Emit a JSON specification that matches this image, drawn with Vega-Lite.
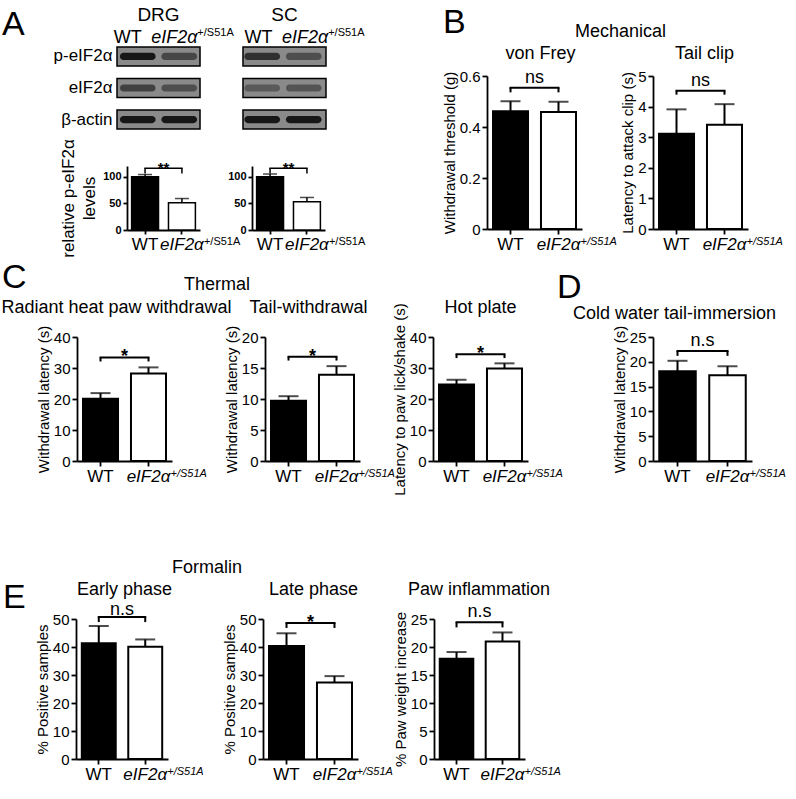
{
"$schema":"https://vega.github.io/schema/vega-lite/v6.json",
"autosize":{"type":"none"},
"padding":{"left":0,"top":47,"right":796,"bottom":752},
"background":"white",
"config":{
 "font":"Liberation Sans",
 "view":{"stroke":null},
 "axis":{"domainColor":"black","domainWidth":1.8,"tickColor":"black","tickWidth":1.8,"tickSize":5,"labelColor":"black","labelFontSize":15,"labelFont":"Liberation Sans","labelOverlap":false,"titleFont":"Liberation Sans","titleColor":"black","titleFontSize":15,"titleFontWeight":"normal","grid":false,"labelPadding":2,"titlePadding":2},
 "title":{"font":"Liberation Sans","fontSize":18,"fontWeight":"normal","color":"black","anchor":"middle","frame":"group","baseline":"alphabetic","offset":0},
 "text":{"font":"Liberation Sans","color":"black"}
},
"datasets":{
 "bars":[
  {"test":"A_DRG","g":"WT","v":100,"e":104},
  {"test":"A_DRG","g":"mut","v":51,"e":59},
  {"test":"A_SC","g":"WT","v":100,"e":105},
  {"test":"A_SC","g":"mut","v":53,"e":61},
  {"test":"vonFrey","g":"WT","v":0.462,"e":0.501},
  {"test":"vonFrey","g":"mut","v":0.459,"e":0.499},
  {"test":"tailClip","g":"WT","v":3.11,"e":3.91},
  {"test":"tailClip","g":"mut","v":3.41,"e":4.08},
  {"test":"radiant","g":"WT","v":20.1,"e":21.9},
  {"test":"radiant","g":"mut","v":28.2,"e":30.2},
  {"test":"tailWithdrawal","g":"WT","v":9.7,"e":10.45},
  {"test":"tailWithdrawal","g":"mut","v":13.9,"e":15.3},
  {"test":"hotPlate","g":"WT","v":24.7,"e":26.2},
  {"test":"hotPlate","g":"mut","v":29.8,"e":31.5},
  {"test":"coldWater","g":"WT","v":18.1,"e":20.2},
  {"test":"coldWater","g":"mut","v":17.3,"e":19.1},
  {"test":"early","g":"WT","v":41.3,"e":47.5},
  {"test":"early","g":"mut","v":40.1,"e":42.7},
  {"test":"late","g":"WT","v":40.4,"e":44.9},
  {"test":"late","g":"mut","v":27.3,"e":29.6},
  {"test":"paw","g":"WT","v":17.9,"e":19.1},
  {"test":"paw","g":"mut","v":21.0,"e":22.6}
 ],
 "sig":[
  {"test":"A_DRG","a":"WT","b":"mut","y":116,"y2":106,"t":"**"},
  {"test":"A_SC","a":"WT","b":"mut","y":116,"y2":106,"t":"**"},
  {"test":"vonFrey","a":"WT","b":"mut","y":0.554,"y2":0.536,"t":"ns"},
  {"test":"tailClip","a":"WT","b":"mut","y":4.52,"y2":4.39,"t":"ns"},
  {"test":"radiant","a":"WT","b":"mut","y":33.4,"y2":32.1,"t":"*"},
  {"test":"tailWithdrawal","a":"WT","b":"mut","y":16.8,"y2":16.2,"t":"*"},
  {"test":"hotPlate","a":"WT","b":"mut","y":34.4,"y2":33.2,"t":"*"},
  {"test":"coldWater","a":"WT","b":"mut","y":22.2,"y2":21.2,"t":"n.s"},
  {"test":"early","a":"WT","b":"mut","y":50.7,"y2":48.9,"t":"n.s"},
  {"test":"late","a":"WT","b":"mut","y":48.6,"y2":46.8,"t":"*"},
  {"test":"paw","a":"WT","b":"mut","y":24.4,"y2":23.5,"t":"n.s"}
 ],
 "blotframes":[
  {"tissue":"DRG","row":"p-eIF2α"},{"tissue":"DRG","row":"eIF2α"},{"tissue":"DRG","row":"β-actin"},
  {"tissue":"SC","row":"p-eIF2α"},{"tissue":"SC","row":"eIF2α"},{"tissue":"SC","row":"β-actin"}
 ],
 "blot":[
  {"lane":"DRG-WT","row":"p-eIF2α","s":0.95},{"lane":"DRG-mut","row":"p-eIF2α","s":0.55},
  {"lane":"SC-WT","row":"p-eIF2α","s":0.75},{"lane":"SC-mut","row":"p-eIF2α","s":0.5},
  {"lane":"DRG-WT","row":"eIF2α","s":0.6},{"lane":"DRG-mut","row":"eIF2α","s":0.5},
  {"lane":"SC-WT","row":"eIF2α","s":0.4},{"lane":"SC-mut","row":"eIF2α","s":0.45},
  {"lane":"DRG-WT","row":"β-actin","s":0.95},{"lane":"DRG-mut","row":"β-actin","s":0.95},
  {"lane":"SC-WT","row":"β-actin","s":0.95},{"lane":"SC-mut","row":"β-actin","s":0.95}
 ],
 "lanes":[
  {"lane":"DRG-WT","geno":"WT"},{"lane":"DRG-mut","geno":"mut"},
  {"lane":"SC-WT","geno":"WT"},{"lane":"SC-mut","geno":"mut"}
 ]
},
"bounds":"flush",
"spacing":0,
"vconcat":[
 {"bounds":"flush","spacing":0,"hconcat":[
  {"width":117,"height":1,"data":{"values":[{}]},"mark":{"type":"point","size":0,"opacity":0},
   "title":{"text":"A","fontSize":34,"anchor":"start","align":"left","dx":2,"dy":-1}},
  {"bounds":"flush","spacing":0,"vconcat":[
   {"width":218,"height":82,
    "resolve":{"scale":{"x":"independent"}},
    "layer":[
     {"data":{"name":"blotframes"},
      "mark":{"type":"rect","fill":"#8a8a8a","stroke":"black","strokeWidth":1.5},
      "encoding":{
       "x":{"field":"tissue","type":"nominal","scale":{"domain":["DRG","SC"],"paddingInner":0.341,"paddingOuter":0.0357,"align":0},
            "axis":{"orient":"top","title":null,"domain":false,"ticks":false,"labelAngle":0,"labelFontSize":19,"labelPadding":23}},
       "y":{"field":"row","type":"nominal","scale":{"domain":["p-eIF2α","eIF2α","β-actin"],"paddingInner":0.4,"paddingOuter":0},
            "axis":{"title":null,"domain":false,"ticks":false,"labelFontSize":17,"labelPadding":5}}}},
     {"data":{"name":"blot"},
      "mark":{"type":"rect","fill":"#111111","cornerRadius":4,"height":{"band":0.38}},
      "encoding":{
       "x":{"field":"lane","type":"nominal","scale":{"domain":["DRG-WT","DRG-mut","gap","SC-WT","SC-mut"],"paddingInner":0.14,"paddingOuter":0.197,"align":0.178},"axis":null},
       "y":{"field":"row","type":"nominal"},
       "opacity":{"field":"s","type":"quantitative","scale":{"domain":[0,1],"range":[0,1]},"legend":null}}},
     {"data":{"name":"lanes"},"transform":[{"filter":"datum.geno=='WT'"}],
      "mark":{"type":"text","text":"WT","fontSize":18,"baseline":"middle","dx":3,"dy":-18},
      "encoding":{
       "x":{"field":"lane","type":"nominal","scale":{"domain":["DRG-WT","DRG-mut","gap","SC-WT","SC-mut"],"paddingInner":0.14,"paddingOuter":0.197,"align":0.178},"axis":null},
       "y":{"datum":"p-eIF2α","type":"nominal"}}},
     {"data":{"name":"lanes"},"transform":[{"filter":"datum.geno=='mut'"}],
      "mark":{"type":"text","text":"eIF2α","fontSize":18,"fontStyle":"italic","baseline":"middle","dx":6,"dy":-18},
      "encoding":{
       "x":{"field":"lane","type":"nominal","scale":{"domain":["DRG-WT","DRG-mut","gap","SC-WT","SC-mut"],"paddingInner":0.14,"paddingOuter":0.197,"align":0.178},"axis":null},
       "y":{"datum":"p-eIF2α","type":"nominal"}}},
     {"data":{"name":"lanes"},"transform":[{"filter":"datum.geno=='mut'"}],
      "mark":{"type":"text","text":"+/S51A","fontSize":11,"align":"left","baseline":"middle","dx":29,"dy":-23},
      "encoding":{
       "x":{"field":"lane","type":"nominal","scale":{"domain":["DRG-WT","DRG-mut","gap","SC-WT","SC-mut"],"paddingInner":0.14,"paddingOuter":0.197,"align":0.178},"axis":null},
       "y":{"datum":"p-eIF2α","type":"nominal"}}}
    ]},
   {"width":1,"height":37,"data":{"values":[{}]},"mark":{"type":"point","size":0,"opacity":0}},
   {"bounds":"flush","spacing":0,"hconcat":[
    {"width":10,"height":1,"data":{"values":[{}]},"mark":{"type":"point","size":0,"opacity":0}},
    {"width":73,"height":64,
     "layer":[
      {"data":{"name":"bars"},"transform":[{"filter":"datum.test=='A_DRG'"}],"mark":{"type":"bar","stroke":"black","strokeWidth":1.5},
       "encoding":{"x":{"field":"g","type":"nominal","scale":{"domain":["WT","mut"],"paddingInner":0.27,"paddingOuter":0.125},
         "axis":{"title":null,"labelAngle":0,"labelFontSize":17,"labelOverlap":false,"labelPadding":2,"tickSize":4,"labelExpr":"datum.value=='mut' ? 'eIF2α' : 'WT'","labelFontStyle":{"condition":{"test":"datum.value=='mut'","value":"italic"},"value":"normal"}}},
        "y":{"field":"v","type":"quantitative","scale":{"domain":[0,120],"nice":false},"axis":{"title":["relative p-eIF2α","levels"],"titleFontSize":17,"titleLineHeight":21,"values":[0,50,100],"tickCount":12,"format":"~f","labelOverlap":false,"labelFontSize":11,"labelFontWeight":"bold","tickSize":4,"titlePadding":4}},
        "fill":{"field":"g","type":"nominal","scale":{"domain":["WT","mut"],"range":["black","white"]},"legend":null}}},
      {"data":{"name":"bars"},"transform":[{"filter":"datum.test=='A_DRG'"}],"mark":{"type":"rule","color":"black","strokeWidth":1.5},
       "encoding":{"x":{"field":"g","type":"nominal","bandPosition":0.5},"y":{"field":"v","type":"quantitative"},"y2":{"field":"e"}}},
      {"data":{"name":"bars"},"transform":[{"filter":"datum.test=='A_DRG'"}],"mark":{"type":"tick","color":"black","thickness":1.5,"size":14},
       "encoding":{"x":{"field":"g","type":"nominal","bandPosition":0.5},"y":{"field":"e","type":"quantitative"}}},
      {"data":{"name":"bars"},"transform":[{"filter":"datum.test=='A_DRG' && datum.g=='mut'"}],"mark":{"type":"text","text":"+/S51A","align":"left","baseline":"top","fontSize":11,"dx":22,"dy":6},
       "encoding":{"x":{"field":"g","type":"nominal","bandPosition":0.5},"y":{"datum":0,"type":"quantitative"}}},
      {"data":{"name":"sig"},"transform":[{"filter":"datum.test=='A_DRG'"}],"mark":{"type":"rule","color":"black","strokeWidth":1.5,"strokeCap":"square"},
       "encoding":{"x":{"field":"a","type":"nominal","bandPosition":0.5},"x2":{"field":"b","bandPosition":0.5},"y":{"field":"y","type":"quantitative"}}},
      {"data":{"name":"sig"},"transform":[{"filter":"datum.test=='A_DRG'"}],"mark":{"type":"rule","color":"black","strokeWidth":1.5},
       "encoding":{"x":{"field":"a","type":"nominal","bandPosition":0.5},"y":{"field":"y","type":"quantitative"},"y2":{"field":"y2"}}},
      {"data":{"name":"sig"},"transform":[{"filter":"datum.test=='A_DRG'"}],"mark":{"type":"rule","color":"black","strokeWidth":1.5},
       "encoding":{"x":{"field":"b","type":"nominal","bandPosition":0.5},"y":{"field":"y","type":"quantitative"},"y2":{"field":"y2"}}},
      {"data":{"name":"sig"},"transform":[{"filter":"datum.test=='A_DRG'"}],"mark":{"type":"text","fontSize":15,"fontWeight":"bold","baseline":"alphabetic","dy":5},
       "encoding":{"x":{"field":"a","type":"nominal","bandPosition":1.185},"y":{"field":"y","type":"quantitative"},"text":{"field":"t"}}}
     ]},
    {"width":52,"height":1,"data":{"values":[{}]},"mark":{"type":"point","size":0,"opacity":0}},
    {"width":73,"height":64,
     "layer":[
      {"data":{"name":"bars"},"transform":[{"filter":"datum.test=='A_SC'"}],"mark":{"type":"bar","stroke":"black","strokeWidth":1.5},
       "encoding":{"x":{"field":"g","type":"nominal","scale":{"domain":["WT","mut"],"paddingInner":0.27,"paddingOuter":0.125},
         "axis":{"title":null,"labelAngle":0,"labelFontSize":17,"labelOverlap":false,"labelPadding":2,"tickSize":4,"labelExpr":"datum.value=='mut' ? 'eIF2α' : 'WT'","labelFontStyle":{"condition":{"test":"datum.value=='mut'","value":"italic"},"value":"normal"}}},
        "y":{"field":"v","type":"quantitative","scale":{"domain":[0,120],"nice":false},"axis":{"title":null,"values":[0,50,100],"tickCount":12,"format":"~f","labelOverlap":false,"labelFontSize":11,"labelFontWeight":"bold","tickSize":4}},
        "fill":{"field":"g","type":"nominal","scale":{"domain":["WT","mut"],"range":["black","white"]},"legend":null}}},
      {"data":{"name":"bars"},"transform":[{"filter":"datum.test=='A_SC'"}],"mark":{"type":"rule","color":"black","strokeWidth":1.5},
       "encoding":{"x":{"field":"g","type":"nominal","bandPosition":0.5},"y":{"field":"v","type":"quantitative"},"y2":{"field":"e"}}},
      {"data":{"name":"bars"},"transform":[{"filter":"datum.test=='A_SC'"}],"mark":{"type":"tick","color":"black","thickness":1.5,"size":14},
       "encoding":{"x":{"field":"g","type":"nominal","bandPosition":0.5},"y":{"field":"e","type":"quantitative"}}},
      {"data":{"name":"bars"},"transform":[{"filter":"datum.test=='A_SC' && datum.g=='mut'"}],"mark":{"type":"text","text":"+/S51A","align":"left","baseline":"top","fontSize":11,"dx":22,"dy":6},
       "encoding":{"x":{"field":"g","type":"nominal","bandPosition":0.5},"y":{"datum":0,"type":"quantitative"}}},
      {"data":{"name":"sig"},"transform":[{"filter":"datum.test=='A_SC'"}],"mark":{"type":"rule","color":"black","strokeWidth":1.5,"strokeCap":"square"},
       "encoding":{"x":{"field":"a","type":"nominal","bandPosition":0.5},"x2":{"field":"b","bandPosition":0.5},"y":{"field":"y","type":"quantitative"}}},
      {"data":{"name":"sig"},"transform":[{"filter":"datum.test=='A_SC'"}],"mark":{"type":"rule","color":"black","strokeWidth":1.5},
       "encoding":{"x":{"field":"a","type":"nominal","bandPosition":0.5},"y":{"field":"y","type":"quantitative"},"y2":{"field":"y2"}}},
      {"data":{"name":"sig"},"transform":[{"filter":"datum.test=='A_SC'"}],"mark":{"type":"rule","color":"black","strokeWidth":1.5},
       "encoding":{"x":{"field":"b","type":"nominal","bandPosition":0.5},"y":{"field":"y","type":"quantitative"},"y2":{"field":"y2"}}},
      {"data":{"name":"sig"},"transform":[{"filter":"datum.test=='A_SC'"}],"mark":{"type":"text","fontSize":15,"fontWeight":"bold","baseline":"alphabetic","dy":5},
       "encoding":{"x":{"field":"a","type":"nominal","bandPosition":1.185},"y":{"field":"y","type":"quantitative"},"text":{"field":"t"}}}
     ]}
   ]}
  ]},
  {"width":369,"height":1,"data":{"values":[{}]},"mark":{"type":"point","size":0,"opacity":0},
   "title":{"text":"B","fontSize":34,"anchor":"start","align":"left","dx":326,"dy":-3}},
  {"bounds":"flush","spacing":0,"vconcat":[
   {"width":1,"height":29,"data":{"values":[{}]},"mark":{"type":"point","size":0,"opacity":0},
    "title":{"text":"Mechanical","dx":134,"dy":-2}},
   {"bounds":"flush","spacing":0,"hconcat":[
    {"width":1,"height":1,"data":{"values":[{}]},"mark":{"type":"point","size":0,"opacity":0},
     "title":{"text":"von Frey","dx":54,"dy":-9}},
    {"width":95,"height":153,
     "layer":[
      {"data":{"name":"bars"},"transform":[{"filter":"datum.test=='vonFrey'"}],"mark":{"type":"bar","stroke":"black","strokeWidth":2},
       "encoding":{"x":{"field":"g","type":"nominal","scale":{"domain":["WT","mut"],"paddingInner":0.27,"paddingOuter":0.125},
         "axis":{"title":null,"labelAngle":0,"labelFontSize":17,"labelOverlap":false,"labelPadding":2,"labelExpr":"datum.value=='mut' ? 'eIF2α' : 'WT'","labelFontStyle":{"condition":{"test":"datum.value=='mut'","value":"italic"},"value":"normal"}}},
        "y":{"field":"v","type":"quantitative","scale":{"domain":[0,0.6],"nice":false},"axis":{"title":"Withdrawal threshold (g)","values":[0,0.2,0.4,0.6],"tickCount":12,"format":"~f","labelOverlap":false}},
        "fill":{"field":"g","type":"nominal","scale":{"domain":["WT","mut"],"range":["black","white"]},"legend":null}}},
      {"data":{"name":"bars"},"transform":[{"filter":"datum.test=='vonFrey'"}],"mark":{"type":"rule","color":"black","strokeWidth":2},
       "encoding":{"x":{"field":"g","type":"nominal","bandPosition":0.5},"y":{"field":"v","type":"quantitative"},"y2":{"field":"e"}}},
      {"data":{"name":"bars"},"transform":[{"filter":"datum.test=='vonFrey'"}],"mark":{"type":"tick","color":"black","thickness":2,"size":20},
       "encoding":{"x":{"field":"g","type":"nominal","bandPosition":0.5},"y":{"field":"e","type":"quantitative"}}},
      {"data":{"name":"bars"},"transform":[{"filter":"datum.test=='vonFrey' && datum.g=='mut'"}],"mark":{"type":"text","text":"+/S51A","align":"left","baseline":"top","fontSize":11,"fontStyle":"italic","dx":22,"dy":7},
       "encoding":{"x":{"field":"g","type":"nominal","bandPosition":0.5},"y":{"datum":0,"type":"quantitative"}}},
      {"data":{"name":"sig"},"transform":[{"filter":"datum.test=='vonFrey'"}],"mark":{"type":"rule","color":"black","strokeWidth":2,"strokeCap":"square"},
       "encoding":{"x":{"field":"a","type":"nominal","bandPosition":0.5},"x2":{"field":"b","bandPosition":0.5},"y":{"field":"y","type":"quantitative"}}},
      {"data":{"name":"sig"},"transform":[{"filter":"datum.test=='vonFrey'"}],"mark":{"type":"rule","color":"black","strokeWidth":2},
       "encoding":{"x":{"field":"a","type":"nominal","bandPosition":0.5},"y":{"field":"y","type":"quantitative"},"y2":{"field":"y2"}}},
      {"data":{"name":"sig"},"transform":[{"filter":"datum.test=='vonFrey'"}],"mark":{"type":"rule","color":"black","strokeWidth":2},
       "encoding":{"x":{"field":"b","type":"nominal","bandPosition":0.5},"y":{"field":"y","type":"quantitative"},"y2":{"field":"y2"}}},
      {"data":{"name":"sig"},"transform":[{"filter":"datum.test=='vonFrey'"}],"mark":{"type":"text","fontSize":18,"baseline":"alphabetic","dy":-5},
       "encoding":{"x":{"field":"a","type":"nominal","bandPosition":1.185},"y":{"field":"y","type":"quantitative"},"text":{"field":"t"}}}
     ]},
    {"width":71,"height":1,"data":{"values":[{}]},"mark":{"type":"point","size":0,"opacity":0},
     "title":{"text":"Tail clip","dx":87,"dy":-9}},
    {"width":95,"height":153,
     "layer":[
      {"data":{"name":"bars"},"transform":[{"filter":"datum.test=='tailClip'"}],"mark":{"type":"bar","stroke":"black","strokeWidth":2},
       "encoding":{"x":{"field":"g","type":"nominal","scale":{"domain":["WT","mut"],"paddingInner":0.27,"paddingOuter":0.125},
         "axis":{"title":null,"labelAngle":0,"labelFontSize":17,"labelOverlap":false,"labelPadding":2,"labelExpr":"datum.value=='mut' ? 'eIF2α' : 'WT'","labelFontStyle":{"condition":{"test":"datum.value=='mut'","value":"italic"},"value":"normal"}}},
        "y":{"field":"v","type":"quantitative","scale":{"domain":[0,5],"nice":false},"axis":{"title":"Latency to attack clip (s)","values":[0,1,2,3,4,5],"tickCount":12,"format":"~f","labelOverlap":false}},
        "fill":{"field":"g","type":"nominal","scale":{"domain":["WT","mut"],"range":["black","white"]},"legend":null}}},
      {"data":{"name":"bars"},"transform":[{"filter":"datum.test=='tailClip'"}],"mark":{"type":"rule","color":"black","strokeWidth":2},
       "encoding":{"x":{"field":"g","type":"nominal","bandPosition":0.5},"y":{"field":"v","type":"quantitative"},"y2":{"field":"e"}}},
      {"data":{"name":"bars"},"transform":[{"filter":"datum.test=='tailClip'"}],"mark":{"type":"tick","color":"black","thickness":2,"size":20},
       "encoding":{"x":{"field":"g","type":"nominal","bandPosition":0.5},"y":{"field":"e","type":"quantitative"}}},
      {"data":{"name":"bars"},"transform":[{"filter":"datum.test=='tailClip' && datum.g=='mut'"}],"mark":{"type":"text","text":"+/S51A","align":"left","baseline":"top","fontSize":11,"fontStyle":"italic","dx":22,"dy":7},
       "encoding":{"x":{"field":"g","type":"nominal","bandPosition":0.5},"y":{"datum":0,"type":"quantitative"}}},
      {"data":{"name":"sig"},"transform":[{"filter":"datum.test=='tailClip'"}],"mark":{"type":"rule","color":"black","strokeWidth":2,"strokeCap":"square"},
       "encoding":{"x":{"field":"a","type":"nominal","bandPosition":0.5},"x2":{"field":"b","bandPosition":0.5},"y":{"field":"y","type":"quantitative"}}},
      {"data":{"name":"sig"},"transform":[{"filter":"datum.test=='tailClip'"}],"mark":{"type":"rule","color":"black","strokeWidth":2},
       "encoding":{"x":{"field":"a","type":"nominal","bandPosition":0.5},"y":{"field":"y","type":"quantitative"},"y2":{"field":"y2"}}},
      {"data":{"name":"sig"},"transform":[{"filter":"datum.test=='tailClip'"}],"mark":{"type":"rule","color":"black","strokeWidth":2},
       "encoding":{"x":{"field":"b","type":"nominal","bandPosition":0.5},"y":{"field":"y","type":"quantitative"},"y2":{"field":"y2"}}},
      {"data":{"name":"sig"},"transform":[{"filter":"datum.test=='tailClip'"}],"mark":{"type":"text","fontSize":18,"baseline":"alphabetic","dy":-5},
       "encoding":{"x":{"field":"a","type":"nominal","bandPosition":1.185},"y":{"field":"y","type":"quantitative"},"text":{"field":"t"}}}
     ]}
   ]}
  ]}
 ]},
 {"width":1,"height":290,"data":{"values":[{}]},"mark":{"type":"point","size":0,"opacity":0}},
 {"bounds":"flush","spacing":0,"hconcat":[
  {"width":76,"height":1,"data":{"values":[{}]},"mark":{"type":"point","size":0,"opacity":0},
   "title":{"text":"C","fontSize":34,"anchor":"start","align":"left","dx":2,"dy":-38}},
  {"width":1,"height":1,"data":{"values":[{}]},"mark":{"type":"point","size":0,"opacity":0},
   "title":{"text":"Radiant heat paw withdrawal","dx":40,"dy":-16}},
  {"width":95,"height":124,
   "layer":[
    {"data":{"name":"bars"},"transform":[{"filter":"datum.test=='radiant'"}],"mark":{"type":"bar","stroke":"black","strokeWidth":2},
     "encoding":{"x":{"field":"g","type":"nominal","scale":{"domain":["WT","mut"],"paddingInner":0.27,"paddingOuter":0.125},
       "axis":{"title":null,"labelAngle":0,"labelFontSize":17,"labelOverlap":false,"labelPadding":2,"labelExpr":"datum.value=='mut' ? 'eIF2α' : 'WT'","labelFontStyle":{"condition":{"test":"datum.value=='mut'","value":"italic"},"value":"normal"}}},
      "y":{"field":"v","type":"quantitative","scale":{"domain":[0,40],"nice":false},"axis":{"title":"Withdrawal latency (s)","values":[0,10,20,30,40],"tickCount":12,"format":"~f","labelOverlap":false}},
      "fill":{"field":"g","type":"nominal","scale":{"domain":["WT","mut"],"range":["black","white"]},"legend":null}}},
    {"data":{"name":"bars"},"transform":[{"filter":"datum.test=='radiant'"}],"mark":{"type":"rule","color":"black","strokeWidth":2},
     "encoding":{"x":{"field":"g","type":"nominal","bandPosition":0.5},"y":{"field":"v","type":"quantitative"},"y2":{"field":"e"}}},
    {"data":{"name":"bars"},"transform":[{"filter":"datum.test=='radiant'"}],"mark":{"type":"tick","color":"black","thickness":2,"size":20},
     "encoding":{"x":{"field":"g","type":"nominal","bandPosition":0.5},"y":{"field":"e","type":"quantitative"}}},
    {"data":{"name":"bars"},"transform":[{"filter":"datum.test=='radiant' && datum.g=='mut'"}],"mark":{"type":"text","text":"+/S51A","align":"left","baseline":"top","fontSize":11,"fontStyle":"italic","dx":22,"dy":7},
     "encoding":{"x":{"field":"g","type":"nominal","bandPosition":0.5},"y":{"datum":0,"type":"quantitative"}}},
    {"data":{"name":"sig"},"transform":[{"filter":"datum.test=='radiant'"}],"mark":{"type":"rule","color":"black","strokeWidth":2,"strokeCap":"square"},
     "encoding":{"x":{"field":"a","type":"nominal","bandPosition":0.5},"x2":{"field":"b","bandPosition":0.5},"y":{"field":"y","type":"quantitative"}}},
    {"data":{"name":"sig"},"transform":[{"filter":"datum.test=='radiant'"}],"mark":{"type":"rule","color":"black","strokeWidth":2},
     "encoding":{"x":{"field":"a","type":"nominal","bandPosition":0.5},"y":{"field":"y","type":"quantitative"},"y2":{"field":"y2"}}},
    {"data":{"name":"sig"},"transform":[{"filter":"datum.test=='radiant'"}],"mark":{"type":"rule","color":"black","strokeWidth":2},
     "encoding":{"x":{"field":"b","type":"nominal","bandPosition":0.5},"y":{"field":"y","type":"quantitative"},"y2":{"field":"y2"}}},
    {"data":{"name":"sig"},"transform":[{"filter":"datum.test=='radiant'"}],"mark":{"type":"text","fontSize":18,"fontWeight":"bold","baseline":"alphabetic","dy":5},
     "encoding":{"x":{"field":"a","type":"nominal","bandPosition":1.185},"y":{"field":"y","type":"quantitative"},"text":{"field":"t"}}}
   ]},
  {"width":92,"height":1,"data":{"values":[{}]},"mark":{"type":"point","size":0,"opacity":0},
   "title":{"text":"Thermal","dx":-1,"dy":-39}},
  {"width":1,"height":1,"data":{"values":[{}]},"mark":{"type":"point","size":0,"opacity":0},
   "title":{"text":"Tail-withdrawal","dx":44,"dy":-16}},
  {"width":95,"height":124,
   "layer":[
    {"data":{"name":"bars"},"transform":[{"filter":"datum.test=='tailWithdrawal'"}],"mark":{"type":"bar","stroke":"black","strokeWidth":2},
     "encoding":{"x":{"field":"g","type":"nominal","scale":{"domain":["WT","mut"],"paddingInner":0.27,"paddingOuter":0.125},
       "axis":{"title":null,"labelAngle":0,"labelFontSize":17,"labelOverlap":false,"labelPadding":2,"labelExpr":"datum.value=='mut' ? 'eIF2α' : 'WT'","labelFontStyle":{"condition":{"test":"datum.value=='mut'","value":"italic"},"value":"normal"}}},
      "y":{"field":"v","type":"quantitative","scale":{"domain":[0,20],"nice":false},"axis":{"title":"Withdrawal latency (s)","values":[0,5,10,15,20],"tickCount":12,"format":"~f","labelOverlap":false}},
      "fill":{"field":"g","type":"nominal","scale":{"domain":["WT","mut"],"range":["black","white"]},"legend":null}}},
    {"data":{"name":"bars"},"transform":[{"filter":"datum.test=='tailWithdrawal'"}],"mark":{"type":"rule","color":"black","strokeWidth":2},
     "encoding":{"x":{"field":"g","type":"nominal","bandPosition":0.5},"y":{"field":"v","type":"quantitative"},"y2":{"field":"e"}}},
    {"data":{"name":"bars"},"transform":[{"filter":"datum.test=='tailWithdrawal'"}],"mark":{"type":"tick","color":"black","thickness":2,"size":20},
     "encoding":{"x":{"field":"g","type":"nominal","bandPosition":0.5},"y":{"field":"e","type":"quantitative"}}},
    {"data":{"name":"bars"},"transform":[{"filter":"datum.test=='tailWithdrawal' && datum.g=='mut'"}],"mark":{"type":"text","text":"+/S51A","align":"left","baseline":"top","fontSize":11,"fontStyle":"italic","dx":22,"dy":7},
     "encoding":{"x":{"field":"g","type":"nominal","bandPosition":0.5},"y":{"datum":0,"type":"quantitative"}}},
    {"data":{"name":"sig"},"transform":[{"filter":"datum.test=='tailWithdrawal'"}],"mark":{"type":"rule","color":"black","strokeWidth":2,"strokeCap":"square"},
     "encoding":{"x":{"field":"a","type":"nominal","bandPosition":0.5},"x2":{"field":"b","bandPosition":0.5},"y":{"field":"y","type":"quantitative"}}},
    {"data":{"name":"sig"},"transform":[{"filter":"datum.test=='tailWithdrawal'"}],"mark":{"type":"rule","color":"black","strokeWidth":2},
     "encoding":{"x":{"field":"a","type":"nominal","bandPosition":0.5},"y":{"field":"y","type":"quantitative"},"y2":{"field":"y2"}}},
    {"data":{"name":"sig"},"transform":[{"filter":"datum.test=='tailWithdrawal'"}],"mark":{"type":"rule","color":"black","strokeWidth":2},
     "encoding":{"x":{"field":"b","type":"nominal","bandPosition":0.5},"y":{"field":"y","type":"quantitative"},"y2":{"field":"y2"}}},
    {"data":{"name":"sig"},"transform":[{"filter":"datum.test=='tailWithdrawal'"}],"mark":{"type":"text","fontSize":18,"fontWeight":"bold","baseline":"alphabetic","dy":5},
     "encoding":{"x":{"field":"a","type":"nominal","bandPosition":1.185},"y":{"field":"y","type":"quantitative"},"text":{"field":"t"}}}
   ]},
  {"width":73,"height":1,"data":{"values":[{}]},"mark":{"type":"point","size":0,"opacity":0},
   "title":{"text":"Hot plate","dx":84,"dy":-16}},
  {"width":95,"height":124,
   "layer":[
    {"data":{"name":"bars"},"transform":[{"filter":"datum.test=='hotPlate'"}],"mark":{"type":"bar","stroke":"black","strokeWidth":2},
     "encoding":{"x":{"field":"g","type":"nominal","scale":{"domain":["WT","mut"],"paddingInner":0.27,"paddingOuter":0.125},
       "axis":{"title":null,"labelAngle":0,"labelFontSize":17,"labelOverlap":false,"labelPadding":2,"labelExpr":"datum.value=='mut' ? 'eIF2α' : 'WT'","labelFontStyle":{"condition":{"test":"datum.value=='mut'","value":"italic"},"value":"normal"}}},
      "y":{"field":"v","type":"quantitative","scale":{"domain":[0,40],"nice":false},"axis":{"title":"Latency to paw lick/shake (s)","values":[0,10,20,30,40],"tickCount":12,"format":"~f","labelOverlap":false}},
      "fill":{"field":"g","type":"nominal","scale":{"domain":["WT","mut"],"range":["black","white"]},"legend":null}}},
    {"data":{"name":"bars"},"transform":[{"filter":"datum.test=='hotPlate'"}],"mark":{"type":"rule","color":"black","strokeWidth":2},
     "encoding":{"x":{"field":"g","type":"nominal","bandPosition":0.5},"y":{"field":"v","type":"quantitative"},"y2":{"field":"e"}}},
    {"data":{"name":"bars"},"transform":[{"filter":"datum.test=='hotPlate'"}],"mark":{"type":"tick","color":"black","thickness":2,"size":20},
     "encoding":{"x":{"field":"g","type":"nominal","bandPosition":0.5},"y":{"field":"e","type":"quantitative"}}},
    {"data":{"name":"bars"},"transform":[{"filter":"datum.test=='hotPlate' && datum.g=='mut'"}],"mark":{"type":"text","text":"+/S51A","align":"left","baseline":"top","fontSize":11,"fontStyle":"italic","dx":22,"dy":7},
     "encoding":{"x":{"field":"g","type":"nominal","bandPosition":0.5},"y":{"datum":0,"type":"quantitative"}}},
    {"data":{"name":"sig"},"transform":[{"filter":"datum.test=='hotPlate'"}],"mark":{"type":"rule","color":"black","strokeWidth":2,"strokeCap":"square"},
     "encoding":{"x":{"field":"a","type":"nominal","bandPosition":0.5},"x2":{"field":"b","bandPosition":0.5},"y":{"field":"y","type":"quantitative"}}},
    {"data":{"name":"sig"},"transform":[{"filter":"datum.test=='hotPlate'"}],"mark":{"type":"rule","color":"black","strokeWidth":2},
     "encoding":{"x":{"field":"a","type":"nominal","bandPosition":0.5},"y":{"field":"y","type":"quantitative"},"y2":{"field":"y2"}}},
    {"data":{"name":"sig"},"transform":[{"filter":"datum.test=='hotPlate'"}],"mark":{"type":"rule","color":"black","strokeWidth":2},
     "encoding":{"x":{"field":"b","type":"nominal","bandPosition":0.5},"y":{"field":"y","type":"quantitative"},"y2":{"field":"y2"}}},
    {"data":{"name":"sig"},"transform":[{"filter":"datum.test=='hotPlate'"}],"mark":{"type":"text","fontSize":18,"fontWeight":"bold","baseline":"alphabetic","dy":5},
     "encoding":{"x":{"field":"a","type":"nominal","bandPosition":1.185},"y":{"field":"y","type":"quantitative"},"text":{"field":"t"}}}
   ]},
  {"width":124,"height":1,"data":{"values":[{}]},"mark":{"type":"point","size":0,"opacity":0},
   "title":{"text":"D","fontSize":34,"anchor":"start","align":"left","dx":29,"dy":-28}},
  {"width":1,"height":1,"data":{"values":[{}]},"mark":{"type":"point","size":0,"opacity":0},
   "title":{"text":"Cold water tail-immersion","dx":22,"dy":-10}},
  {"width":99,"height":124,
   "layer":[
    {"data":{"name":"bars"},"transform":[{"filter":"datum.test=='coldWater'"}],"mark":{"type":"bar","stroke":"black","strokeWidth":2},
     "encoding":{"x":{"field":"g","type":"nominal","scale":{"domain":["WT","mut"],"paddingInner":0.27,"paddingOuter":0.125},
       "axis":{"title":null,"labelAngle":0,"labelFontSize":17,"labelOverlap":false,"labelPadding":2,"labelExpr":"datum.value=='mut' ? 'eIF2α' : 'WT'","labelFontStyle":{"condition":{"test":"datum.value=='mut'","value":"italic"},"value":"normal"}}},
      "y":{"field":"v","type":"quantitative","scale":{"domain":[0,25],"nice":false},"axis":{"title":"Withdrawal latency (s)","values":[0,5,10,15,20,25],"tickCount":12,"format":"~f","labelOverlap":false}},
      "fill":{"field":"g","type":"nominal","scale":{"domain":["WT","mut"],"range":["black","white"]},"legend":null}}},
    {"data":{"name":"bars"},"transform":[{"filter":"datum.test=='coldWater'"}],"mark":{"type":"rule","color":"black","strokeWidth":2},
     "encoding":{"x":{"field":"g","type":"nominal","bandPosition":0.5},"y":{"field":"v","type":"quantitative"},"y2":{"field":"e"}}},
    {"data":{"name":"bars"},"transform":[{"filter":"datum.test=='coldWater'"}],"mark":{"type":"tick","color":"black","thickness":2,"size":20},
     "encoding":{"x":{"field":"g","type":"nominal","bandPosition":0.5},"y":{"field":"e","type":"quantitative"}}},
    {"data":{"name":"bars"},"transform":[{"filter":"datum.test=='coldWater' && datum.g=='mut'"}],"mark":{"type":"text","text":"+/S51A","align":"left","baseline":"top","fontSize":11,"fontStyle":"italic","dx":22,"dy":7},
     "encoding":{"x":{"field":"g","type":"nominal","bandPosition":0.5},"y":{"datum":0,"type":"quantitative"}}},
    {"data":{"name":"sig"},"transform":[{"filter":"datum.test=='coldWater'"}],"mark":{"type":"rule","color":"black","strokeWidth":2,"strokeCap":"square"},
     "encoding":{"x":{"field":"a","type":"nominal","bandPosition":0.5},"x2":{"field":"b","bandPosition":0.5},"y":{"field":"y","type":"quantitative"}}},
    {"data":{"name":"sig"},"transform":[{"filter":"datum.test=='coldWater'"}],"mark":{"type":"rule","color":"black","strokeWidth":2},
     "encoding":{"x":{"field":"a","type":"nominal","bandPosition":0.5},"y":{"field":"y","type":"quantitative"},"y2":{"field":"y2"}}},
    {"data":{"name":"sig"},"transform":[{"filter":"datum.test=='coldWater'"}],"mark":{"type":"rule","color":"black","strokeWidth":2},
     "encoding":{"x":{"field":"b","type":"nominal","bandPosition":0.5},"y":{"field":"y","type":"quantitative"},"y2":{"field":"y2"}}},
    {"data":{"name":"sig"},"transform":[{"filter":"datum.test=='coldWater'"}],"mark":{"type":"text","fontSize":18,"baseline":"alphabetic","dy":-5},
     "encoding":{"x":{"field":"a","type":"nominal","bandPosition":1.185},"y":{"field":"y","type":"quantitative"},"text":{"field":"t"}}}
   ]}
 ]},
 {"width":1,"height":282,"data":{"values":[{}]},"mark":{"type":"point","size":0,"opacity":0}},
 {"bounds":"flush","spacing":0,"hconcat":[
  {"width":75,"height":1,"data":{"values":[{}]},"mark":{"type":"point","size":0,"opacity":0},
   "title":{"text":"E","fontSize":34,"anchor":"start","align":"left","dx":3,"dy":0}},
  {"width":1,"height":1,"data":{"values":[{}]},"mark":{"type":"point","size":0,"opacity":0},
   "title":{"text":"Early phase","dx":49,"dy":-16}},
  {"width":92,"height":140,
   "layer":[
    {"data":{"name":"bars"},"transform":[{"filter":"datum.test=='early'"}],"mark":{"type":"bar","stroke":"black","strokeWidth":2},
     "encoding":{"x":{"field":"g","type":"nominal","scale":{"domain":["WT","mut"],"paddingInner":0.27,"paddingOuter":0.125},
       "axis":{"title":null,"labelAngle":0,"labelFontSize":17,"labelOverlap":false,"labelPadding":2,"labelExpr":"datum.value=='mut' ? 'eIF2α' : 'WT'","labelFontStyle":{"condition":{"test":"datum.value=='mut'","value":"italic"},"value":"normal"}}},
      "y":{"field":"v","type":"quantitative","scale":{"domain":[0,50],"nice":false},"axis":{"title":"% Positive samples","values":[0,10,20,30,40,50],"tickCount":12,"format":"~f","labelOverlap":false}},
      "fill":{"field":"g","type":"nominal","scale":{"domain":["WT","mut"],"range":["black","white"]},"legend":null}}},
    {"data":{"name":"bars"},"transform":[{"filter":"datum.test=='early'"}],"mark":{"type":"rule","color":"black","strokeWidth":2},
     "encoding":{"x":{"field":"g","type":"nominal","bandPosition":0.5},"y":{"field":"v","type":"quantitative"},"y2":{"field":"e"}}},
    {"data":{"name":"bars"},"transform":[{"filter":"datum.test=='early'"}],"mark":{"type":"tick","color":"black","thickness":2,"size":20},
     "encoding":{"x":{"field":"g","type":"nominal","bandPosition":0.5},"y":{"field":"e","type":"quantitative"}}},
    {"data":{"name":"bars"},"transform":[{"filter":"datum.test=='early' && datum.g=='mut'"}],"mark":{"type":"text","text":"+/S51A","align":"left","baseline":"top","fontSize":11,"fontStyle":"italic","dx":22,"dy":7},
     "encoding":{"x":{"field":"g","type":"nominal","bandPosition":0.5},"y":{"datum":0,"type":"quantitative"}}},
    {"data":{"name":"sig"},"transform":[{"filter":"datum.test=='early'"}],"mark":{"type":"rule","color":"black","strokeWidth":2,"strokeCap":"square"},
     "encoding":{"x":{"field":"a","type":"nominal","bandPosition":0.5},"x2":{"field":"b","bandPosition":0.5},"y":{"field":"y","type":"quantitative"}}},
    {"data":{"name":"sig"},"transform":[{"filter":"datum.test=='early'"}],"mark":{"type":"rule","color":"black","strokeWidth":2},
     "encoding":{"x":{"field":"a","type":"nominal","bandPosition":0.5},"y":{"field":"y","type":"quantitative"},"y2":{"field":"y2"}}},
    {"data":{"name":"sig"},"transform":[{"filter":"datum.test=='early'"}],"mark":{"type":"rule","color":"black","strokeWidth":2},
     "encoding":{"x":{"field":"b","type":"nominal","bandPosition":0.5},"y":{"field":"y","type":"quantitative"},"y2":{"field":"y2"}}},
    {"data":{"name":"sig"},"transform":[{"filter":"datum.test=='early'"}],"mark":{"type":"text","fontSize":18,"baseline":"alphabetic","dy":-2},
     "encoding":{"x":{"field":"a","type":"nominal","bandPosition":1.185},"y":{"field":"y","type":"quantitative"},"text":{"field":"t"}}}
   ]},
  {"width":94,"height":1,"data":{"values":[{}]},"mark":{"type":"point","size":0,"opacity":0},
   "title":{"text":"Formalin","dx":-8,"dy":-38}},
  {"width":1,"height":1,"data":{"values":[{}]},"mark":{"type":"point","size":0,"opacity":0},
   "title":{"text":"Late phase","dx":51,"dy":-16}},
  {"width":95,"height":140,
   "layer":[
    {"data":{"name":"bars"},"transform":[{"filter":"datum.test=='late'"}],"mark":{"type":"bar","stroke":"black","strokeWidth":2},
     "encoding":{"x":{"field":"g","type":"nominal","scale":{"domain":["WT","mut"],"paddingInner":0.27,"paddingOuter":0.125},
       "axis":{"title":null,"labelAngle":0,"labelFontSize":17,"labelOverlap":false,"labelPadding":2,"labelExpr":"datum.value=='mut' ? 'eIF2α' : 'WT'","labelFontStyle":{"condition":{"test":"datum.value=='mut'","value":"italic"},"value":"normal"}}},
      "y":{"field":"v","type":"quantitative","scale":{"domain":[0,50],"nice":false},"axis":{"title":"% Positive samples","values":[0,10,20,30,40,50],"tickCount":12,"format":"~f","labelOverlap":false}},
      "fill":{"field":"g","type":"nominal","scale":{"domain":["WT","mut"],"range":["black","white"]},"legend":null}}},
    {"data":{"name":"bars"},"transform":[{"filter":"datum.test=='late'"}],"mark":{"type":"rule","color":"black","strokeWidth":2},
     "encoding":{"x":{"field":"g","type":"nominal","bandPosition":0.5},"y":{"field":"v","type":"quantitative"},"y2":{"field":"e"}}},
    {"data":{"name":"bars"},"transform":[{"filter":"datum.test=='late'"}],"mark":{"type":"tick","color":"black","thickness":2,"size":20},
     "encoding":{"x":{"field":"g","type":"nominal","bandPosition":0.5},"y":{"field":"e","type":"quantitative"}}},
    {"data":{"name":"bars"},"transform":[{"filter":"datum.test=='late' && datum.g=='mut'"}],"mark":{"type":"text","text":"+/S51A","align":"left","baseline":"top","fontSize":11,"fontStyle":"italic","dx":22,"dy":7},
     "encoding":{"x":{"field":"g","type":"nominal","bandPosition":0.5},"y":{"datum":0,"type":"quantitative"}}},
    {"data":{"name":"sig"},"transform":[{"filter":"datum.test=='late'"}],"mark":{"type":"rule","color":"black","strokeWidth":2,"strokeCap":"square"},
     "encoding":{"x":{"field":"a","type":"nominal","bandPosition":0.5},"x2":{"field":"b","bandPosition":0.5},"y":{"field":"y","type":"quantitative"}}},
    {"data":{"name":"sig"},"transform":[{"filter":"datum.test=='late'"}],"mark":{"type":"rule","color":"black","strokeWidth":2},
     "encoding":{"x":{"field":"a","type":"nominal","bandPosition":0.5},"y":{"field":"y","type":"quantitative"},"y2":{"field":"y2"}}},
    {"data":{"name":"sig"},"transform":[{"filter":"datum.test=='late'"}],"mark":{"type":"rule","color":"black","strokeWidth":2},
     "encoding":{"x":{"field":"b","type":"nominal","bandPosition":0.5},"y":{"field":"y","type":"quantitative"},"y2":{"field":"y2"}}},
    {"data":{"name":"sig"},"transform":[{"filter":"datum.test=='late'"}],"mark":{"type":"text","fontSize":18,"fontWeight":"bold","baseline":"alphabetic","dy":5},
     "encoding":{"x":{"field":"a","type":"nominal","bandPosition":1.185},"y":{"field":"y","type":"quantitative"},"text":{"field":"t"}}}
   ]},
  {"width":76,"height":1,"data":{"values":[{}]},"mark":{"type":"point","size":0,"opacity":0},
   "title":{"text":"Paw inflammation","dx":83,"dy":-16}},
  {"width":91,"height":140,
   "layer":[
    {"data":{"name":"bars"},"transform":[{"filter":"datum.test=='paw'"}],"mark":{"type":"bar","stroke":"black","strokeWidth":2},
     "encoding":{"x":{"field":"g","type":"nominal","scale":{"domain":["WT","mut"],"paddingInner":0.27,"paddingOuter":0.125},
       "axis":{"title":null,"labelAngle":0,"labelFontSize":17,"labelOverlap":false,"labelPadding":2,"labelExpr":"datum.value=='mut' ? 'eIF2α' : 'WT'","labelFontStyle":{"condition":{"test":"datum.value=='mut'","value":"italic"},"value":"normal"}}},
      "y":{"field":"v","type":"quantitative","scale":{"domain":[0,25],"nice":false},"axis":{"title":"% Paw weight increase","values":[0,5,10,15,20,25],"tickCount":12,"format":"~f","labelOverlap":false}},
      "fill":{"field":"g","type":"nominal","scale":{"domain":["WT","mut"],"range":["black","white"]},"legend":null}}},
    {"data":{"name":"bars"},"transform":[{"filter":"datum.test=='paw'"}],"mark":{"type":"rule","color":"black","strokeWidth":2},
     "encoding":{"x":{"field":"g","type":"nominal","bandPosition":0.5},"y":{"field":"v","type":"quantitative"},"y2":{"field":"e"}}},
    {"data":{"name":"bars"},"transform":[{"filter":"datum.test=='paw'"}],"mark":{"type":"tick","color":"black","thickness":2,"size":20},
     "encoding":{"x":{"field":"g","type":"nominal","bandPosition":0.5},"y":{"field":"e","type":"quantitative"}}},
    {"data":{"name":"bars"},"transform":[{"filter":"datum.test=='paw' && datum.g=='mut'"}],"mark":{"type":"text","text":"+/S51A","align":"left","baseline":"top","fontSize":11,"fontStyle":"italic","dx":22,"dy":7},
     "encoding":{"x":{"field":"g","type":"nominal","bandPosition":0.5},"y":{"datum":0,"type":"quantitative"}}},
    {"data":{"name":"sig"},"transform":[{"filter":"datum.test=='paw'"}],"mark":{"type":"rule","color":"black","strokeWidth":2,"strokeCap":"square"},
     "encoding":{"x":{"field":"a","type":"nominal","bandPosition":0.5},"x2":{"field":"b","bandPosition":0.5},"y":{"field":"y","type":"quantitative"}}},
    {"data":{"name":"sig"},"transform":[{"filter":"datum.test=='paw'"}],"mark":{"type":"rule","color":"black","strokeWidth":2},
     "encoding":{"x":{"field":"a","type":"nominal","bandPosition":0.5},"y":{"field":"y","type":"quantitative"},"y2":{"field":"y2"}}},
    {"data":{"name":"sig"},"transform":[{"filter":"datum.test=='paw'"}],"mark":{"type":"rule","color":"black","strokeWidth":2},
     "encoding":{"x":{"field":"b","type":"nominal","bandPosition":0.5},"y":{"field":"y","type":"quantitative"},"y2":{"field":"y2"}}},
    {"data":{"name":"sig"},"transform":[{"filter":"datum.test=='paw'"}],"mark":{"type":"text","fontSize":18,"baseline":"alphabetic","dy":-5},
     "encoding":{"x":{"field":"a","type":"nominal","bandPosition":1.185},"y":{"field":"y","type":"quantitative"},"text":{"field":"t"}}}
   ]}
 ]}
]
}
